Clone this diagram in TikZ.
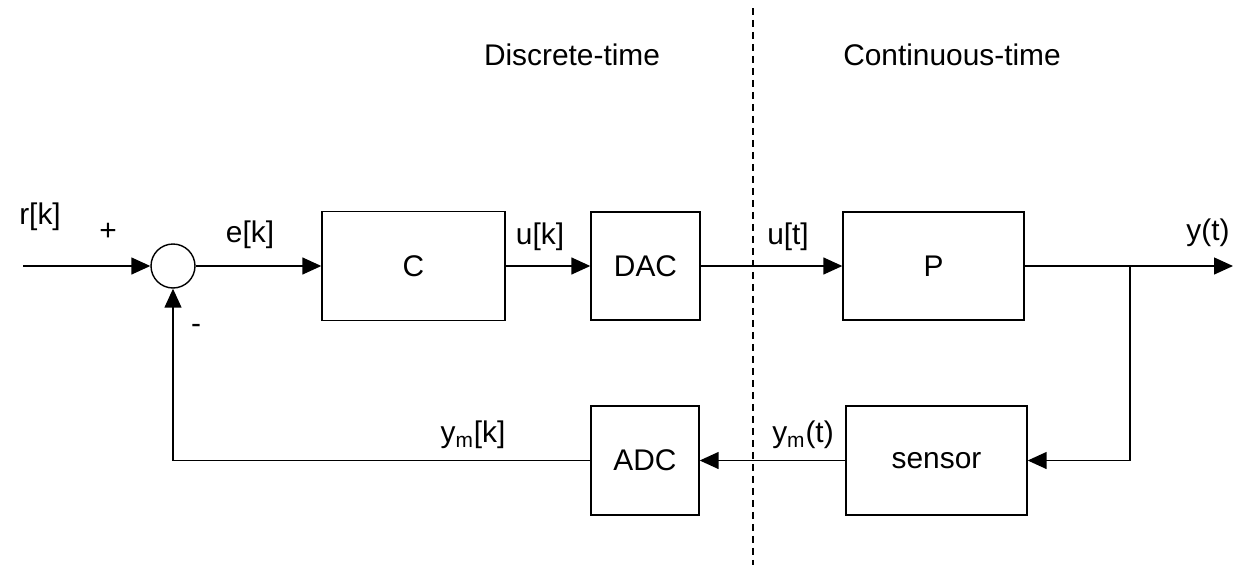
\documentclass[tikz,border=0pt]{standalone}
\usepackage{fontspec}
\setmainfont{Liberation Sans}
\usetikzlibrary{arrows.meta}

\begin{document}
\begin{tikzpicture}[x=0.02cm, y=-0.02cm,
        every node/.style={font=\fontsize{17}{20}\selectfont},
        block/.style={draw, line width=0.8pt, inner sep=0pt},
        sum/.style={draw, circle, line width=0.8pt, minimum size=0.88cm, inner sep=0pt},
        sig/.style={line width=0.8pt, -{Triangle[length=0.38cm, width=0.34cm]}}]
        \useasboundingbox (0, 0) rectangle (1235, 565);

        % The boundary between the two domains
        \draw[line width=0.6pt, dash pattern=on 0.14cm off 0.1cm] (753, 8) -- (753, 565);
        \node (disc) at (572, 55) {Discrete-time};
        \node (cont) at (952, 55) {Continuous-time};

        % The blocks
        \node[sum] (sum) at (173, 266) {};
        \node[block, minimum width=3.66cm, minimum height=2.18cm] (C) at (413.5, 266) {C};
        \node[block, minimum width=2.18cm, minimum height=2.16cm] (DAC) at (645.5, 266) {DAC};
        \node[block, minimum width=3.62cm, minimum height=2.16cm] (P) at (933.5, 266) {P};
        \node[block, minimum width=3.62cm, minimum height=2.18cm] (sensor) at (936.5, 460.5) {sensor};
        \node[block, minimum width=2.16cm, minimum height=2.18cm] (ADC) at (645, 460.5) {ADC};

        % The free ends
        \coordinate (in) at (23, 266);
        \coordinate (out) at (1233, 266);
        \coordinate (branch) at (1130, 266);

        % The signals
        \draw[sig] (in) -- (sum.west);
        \draw[sig] (sum.east) -- (C.west);
        \draw[sig] (C.east) -- (DAC.west);
        \draw[sig] (DAC.east) -- (P.west);
        \draw[sig] (P.east) -- (out);
        \draw[sig] (branch) |- (sensor.east);
        \draw[sig] (sensor.west) -- (ADC.east);
        \draw[sig] (ADC.west) -| (sum.south);

        % The labels of the signals
        \node (r) at (40, 217) {r[k]};
        \node (plus) at (108, 232) {+};
        \node (minus) at (196, 329) {-};
        \node (e) at (250, 235) {e[k]};
        \node (uk) at (540, 237) {u[k]};
        \node (ut) at (788, 237) {u[t]};
        \node (y) at (1208, 233) {y(t)};
        \node (ymt) at (803, 435) {y\textsubscript{m}(t)};
        \node (ymk) at (473, 435) {y\textsubscript{m}[k]};
    \end{tikzpicture}
\end{document}
